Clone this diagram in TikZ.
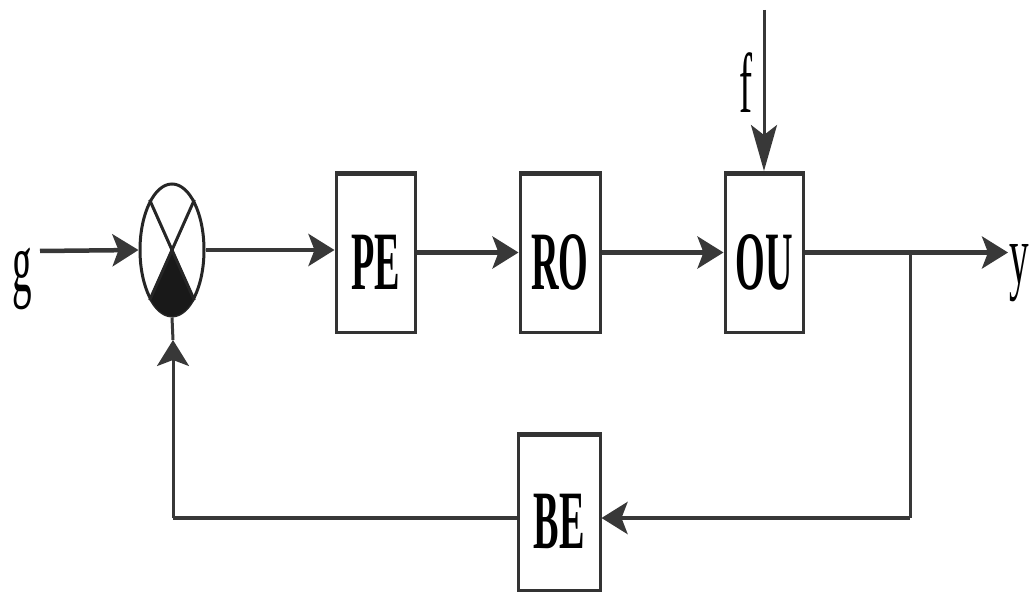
\documentclass[tikz,border=0pt]{standalone}
\usepackage{fontspec}
\usepackage{graphicx}
\setmainfont{Liberation Serif}
\usetikzlibrary{arrows.meta,shapes.geometric,calc}
% condensed lettering used for every label
\newcommand\narrowtxt[1]{\scalebox{0.46}[1]{#1}}
\begin{document}
\begin{tikzpicture}[x=1pt,y=-1pt,
  wire/.style={draw=black!78, line width=4.5pt},
  thinwire/.style={draw=black!78, line width=3pt},
  head/.style={-{Stealth[length=26pt,width=32pt,inset=6pt]}},
  longhead/.style={-{Stealth[length=46pt,width=26pt,inset=10pt]}},
  block/.style={draw=black!80, line width=3pt, rectangle, inner sep=0pt,
    minimum width=80pt, minimum height=160pt, text height=74pt, text depth=0pt,
    font=\fontsize{83}{90}\selectfont\bfseries,
    path picture={\draw[line width=8pt, black!80]
      (path picture bounding box.north west) -- (path picture bounding box.north east);}},
  lbl/.style={font=\fontsize{85}{90}\selectfont, inner sep=0pt}]
\useasboundingbox (0,0) rectangle (1030,593);

% summing junction
\node[draw=black!85, line width=3pt, ellipse, inner sep=0pt,
      minimum width=64pt, minimum height=132pt] (sum) at (172,250) {};
\begin{scope}
  \clip (sum.center) ellipse [x radius=32pt, y radius=66pt];
  \fill[black!90] (sum.center) -- ($(sum.center)!2!(sum.-66)$)
    -- ($(sum.center)!2!(sum.-114)$) -- cycle;
\end{scope}
\draw[line width=3pt, black!85] (sum.114) -- (sum.-66) (sum.66) -- (sum.-114);

% blocks
\node[block, minimum width=79pt] (pe) at (375.5,252.5) {\narrowtxt{PE}};
\node[block] (ro) at (560,252.5) {\narrowtxt{RO}};
\node[block, minimum width=78pt] (ou) at (764,252.5) {\narrowtxt{OU}};
\node[block, minimum width=82pt, minimum height=157pt] (be) at (559,511.5) {\narrowtxt{BE}};

% signal labels
\node[lbl, anchor=base] (g) at (22,292) {\narrowtxt{g}};
\node[lbl, anchor=base east] (y) at (1029,284) {\narrowtxt{y}};
\node[lbl, anchor=base] (f) at (746,113) {\narrowtxt{f}};

% free ends and corners
\coordinate (gin) at (40,251);
\coordinate (yout) at (1008,252.5);
\coordinate (tap) at (910,252.5);
\coordinate (fbr) at (910,518);
\coordinate (fbl) at (173,518);
\coordinate (fbtip) at (173,340);
\coordinate (ftop) at (764,10);

% forward path
\draw[wire, head] (gin) -- (sum.west);
\draw[wire, head] (sum.east) -- (sum.east -| pe.west);
\draw[wire, head] (pe.east) -- (ro.west);
\draw[wire, head] (ro.east) -- (ou.west);
\draw[wire, head] (ou.east) -- (yout);
\draw[thinwire, longhead] (ftop) -- (ou.north);

% feedback path
\draw[thinwire] (tap) -- (fbr);
\draw[wire, head] (fbr) -- (fbr -| be.east);
\draw[wire] (fbr -| be.west) -- (fbl);
\draw[thinwire, head] (fbl) -- (fbtip);
\draw[thinwire] (fbtip) -- (sum.south);
\end{tikzpicture}
\end{document}
